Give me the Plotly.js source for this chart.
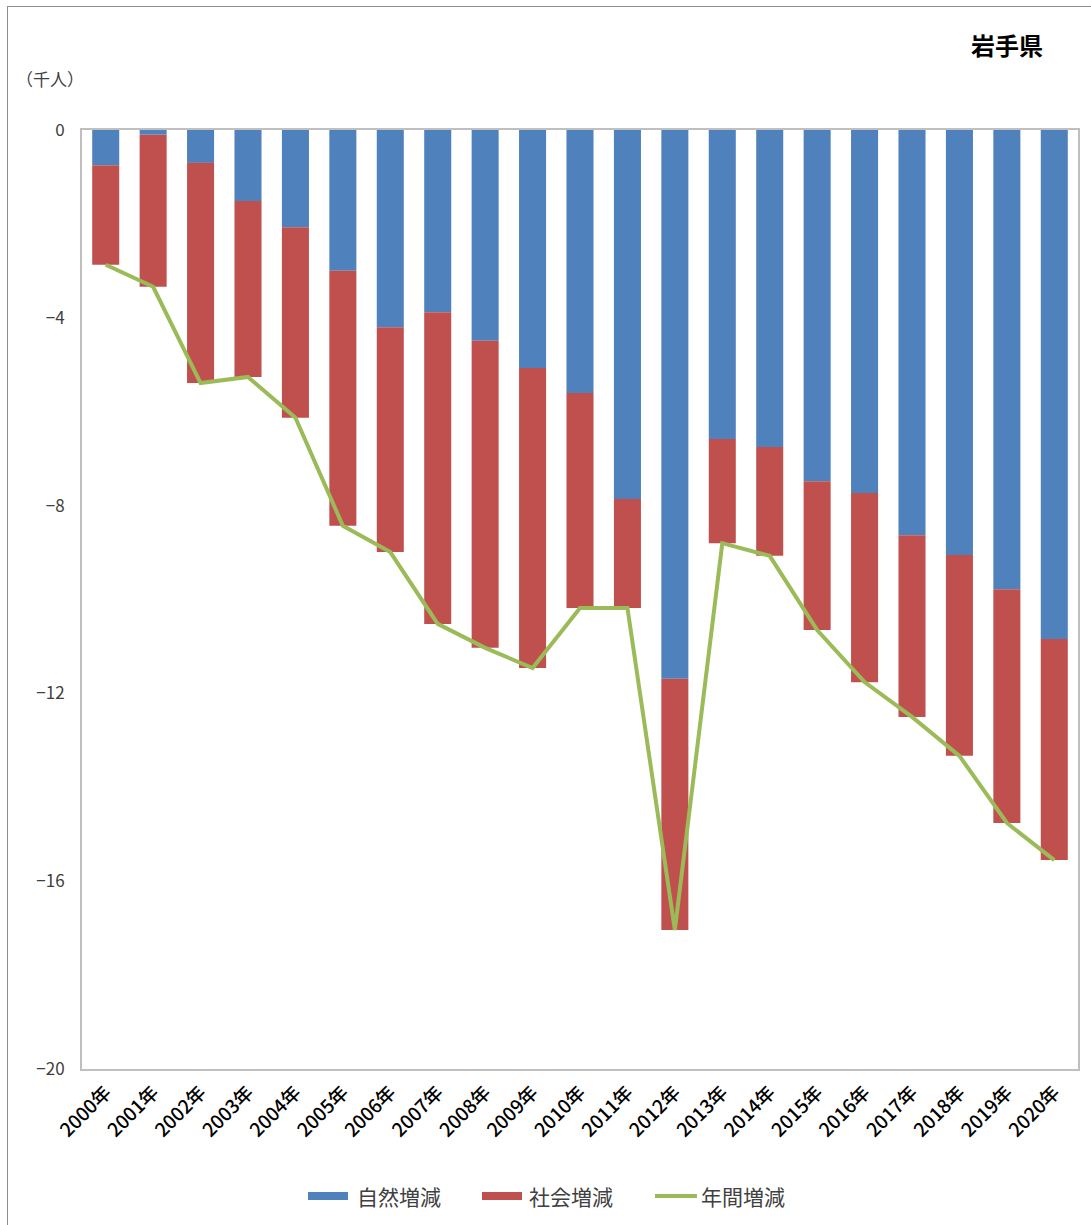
<!DOCTYPE html>
<html><head><meta charset="utf-8">
<script src="https://cdn.plot.ly/plotly-3.0.1.min.js"></script>
<style>
html,body{margin:0;padding:0;background:#fff;}
#frame{position:absolute;left:7px;top:6px;width:1084px;height:1219px;border-top:1px solid #8c8c8c;border-left:1px solid #8c8c8c;box-sizing:border-box;}
#chart{position:absolute;left:0;top:0;width:1091px;height:1225px;}
</style></head>
<body>
<div id="chart"></div>
<div id="frame"></div>
<script>
const years = ["2000年","2001年","2002年","2003年","2004年","2005年","2006年","2007年","2008年","2009年","2010年","2011年","2012年","2013年","2014年","2015年","2016年","2017年","2018年","2019年","2020年"];
const natural = [-0.75,-0.10,-0.70,-1.51,-2.07,-3.00,-4.20,-3.88,-4.49,-5.07,-5.60,-7.86,-11.69,-6.58,-6.75,-7.48,-7.73,-8.63,-9.05,-9.78,-10.84];
const social = [-2.12,-3.24,-4.69,-3.75,-4.06,-5.43,-4.79,-6.64,-6.54,-6.39,-4.58,-2.32,-5.35,-2.22,-2.32,-3.17,-4.03,-3.87,-4.28,-4.98,-4.71];
const annual = [-2.87,-3.34,-5.39,-5.26,-6.13,-8.43,-8.99,-10.52,-11.03,-11.46,-10.18,-10.18,-17.04,-8.80,-9.07,-10.65,-11.76,-12.50,-13.33,-14.76,-15.55];
const seriesNames = ["自然増減","社会増減","年間増減"];
const seriesColors = ["#4f81bd","#c0504d","#9bbb59"];
const yTicks = [0,-4,-8,-12,-16,-20];
const chartTitle = "岩手県";
const unitLabel = "（千人）";

const font = "'Noto Sans CJK JP', 'Noto Sans', sans-serif";
const traces = [
  {type:'bar', name:seriesNames[0], x:years, y:natural, marker:{color:seriesColors[0]}, showlegend:false},
  {type:'bar', name:seriesNames[1], x:years, y:social, marker:{color:seriesColors[1]}, showlegend:false},
  {type:'scatter', mode:'lines', name:seriesNames[2], x:years, y:annual, line:{color:seriesColors[2], width:4}, showlegend:false}
];
// custom legend (pixel positions converted to paper coords)
const L = 82, W = 996, B = 1069, H = 939;
const px = v => (v - L) / W;
const py = v => (B - v) / H;
const legendY = 1196;
const items = [
  {sym:'rect', x0:308, x1:348, tx:355},
  {sym:'rect', x0:482, x1:522, tx:527},
  {sym:'line', x0:655, x1:697, tx:699}
];
const shapes = [], annotations = [];
items.forEach((it, i) => {
  if (it.sym === 'rect') {
    shapes.push({type:'rect', xref:'paper', yref:'paper', x0:px(it.x0), x1:px(it.x1), y0:py(legendY+4), y1:py(legendY-4), fillcolor:seriesColors[i], line:{width:0}});
  } else {
    shapes.push({type:'line', xref:'paper', yref:'paper', x0:px(it.x0), x1:px(it.x1), y0:py(legendY), y1:py(legendY), line:{color:seriesColors[i], width:4}});
  }
  annotations.push({text:seriesNames[i], xref:'paper', yref:'paper', x:px(it.tx), y:py(legendY), xanchor:'left', yanchor:'middle', showarrow:false, font:{size:21, color:'#404040', family:font}});
});
annotations.push({text:'<b>'+chartTitle+'</b>', xref:'paper', yref:'paper', x:px(1007), y:py(45), showarrow:false, font:{size:24, color:'#000', family:font}, xanchor:'center', yanchor:'middle'});
annotations.push({text:unitLabel, xref:'paper', yref:'paper', x:px(50), y:py(78), showarrow:false, font:{size:17, color:'#404040', family:font}, xanchor:'center', yanchor:'middle'});

const layout = {
  width:1091, height:1225,
  margin:{l:82, r:13, t:130, b:156},
  paper_bgcolor:'rgba(0,0,0,0)', plot_bgcolor:'#fff',
  barmode:'relative', bargap:0.43,
  font:{family:font, color:'#404040'},
  showlegend:false,
  xaxis:{type:'category', tickangle:-45, tickfont:{size:19, color:'#000', weight:500}, showline:true, linecolor:'#bfbfbf', linewidth:2, mirror:true, ticks:'', showgrid:false, automargin:false, ticklabelstandoff:3},
  yaxis:{range:[-20,0], tickvals:yTicks, ticktext:yTicks.map(v=>v===0?'0':'−'+Math.abs(v)), tickfont:{size:17, color:'#404040'}, showline:true, linecolor:'#bfbfbf', linewidth:2, mirror:true, showgrid:false, zeroline:false, ticks:'', automargin:false, ticklabelstandoff:12},
  shapes, annotations
};
Plotly.newPlot('chart', traces, layout, {displayModeBar:false, staticPlot:true});
</script>
</body></html>
